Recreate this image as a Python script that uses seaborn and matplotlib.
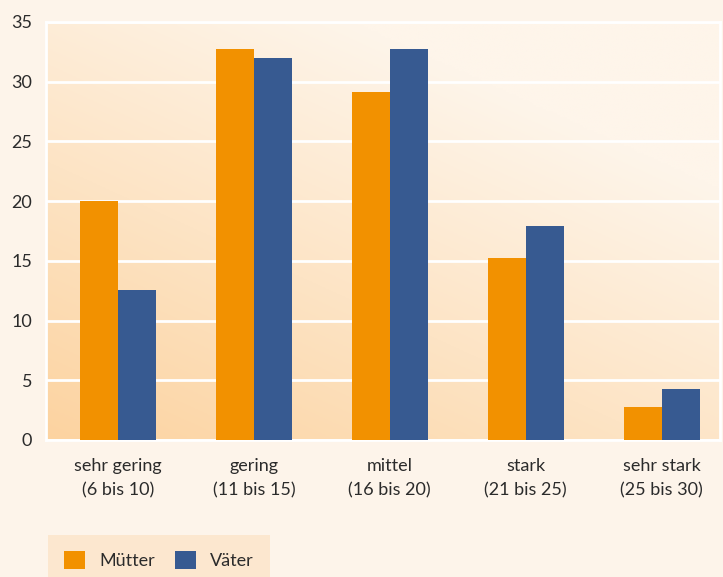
import numpy as np
import pandas as pd
import seaborn as sns
import matplotlib.pyplot as plt
from matplotlib.patches import Patch
from matplotlib.colors import to_rgb

categories = ["sehr gering\n(6 bis 10)", "gering\n(11 bis 15)", "mittel\n(16 bis 20)",
              "stark\n(21 bis 25)", "sehr stark\n(25 bis 30)"]
muetter = [20.0, 32.7, 29.1, 15.2, 2.8]
vaeter = [12.6, 32.0, 32.7, 17.9, 4.3]
series = ["Mütter", "Väter"]
yticks = [0, 5, 10, 15, 20, 25, 30, 35]

ORANGE = "#f29100"
BLUE = "#375a91"
FIG_BG = "#fdf4ea"
TEXT = "#2b2b2b"

sns.set_theme(style="white")
plt.rcParams["font.family"] = ["Lato", "DejaVu Sans"]

df = pd.DataFrame({
    "Kategorie": categories * 2,
    "Anteil": muetter + vaeter,
    "Gruppe": [series[0]] * len(categories) + [series[1]] * len(categories),
})

fig = plt.figure(figsize=(7.23, 5.77), dpi=100, facecolor=FIG_BG)
ax = fig.add_axes([46 / 723, 1 - 440 / 577, (720 - 46) / 723, (440 - 22) / 577])

# gradient background
c0 = np.array(to_rgb("#fcd3a0"))
c1 = np.array(to_rgb("#fef5ea"))
nx, ny = 200, 200
xx, yy = np.meshgrid(np.linspace(0, 1, nx), np.linspace(0, 1, ny))
t = np.clip(0.55 * xx + 0.75 * yy, 0, 1)
t = t / t.max()
img = c0[None, None, :] * (1 - t[..., None]) + c1[None, None, :] * t[..., None]
ax.imshow(img, extent=[-0.53, 4.43, 0, 35], origin="lower", aspect="auto", zorder=0)

sns.barplot(data=df, x="Kategorie", y="Anteil", hue="Gruppe", palette=[ORANGE, BLUE],
            width=0.56, saturation=1, ax=ax, legend=False, zorder=3, linewidth=0)

ax.set_xlim(-0.53, 4.43)
ax.set_ylim(0, 35)
ax.set_yticks(yticks)
ax.set_yticklabels([str(v) for v in yticks])
ax.set_xlabel("")
ax.set_ylabel("")
ax.set_facecolor("none")
ax.yaxis.grid(True, color="white", linewidth=2, zorder=1)
ax.set_axisbelow(True)
for s in ax.spines.values():
    s.set_color("white")
    s.set_linewidth(2)

ax.tick_params(axis="y", length=0, pad=10, labelsize=13, labelcolor=TEXT)
ax.tick_params(axis="x", which="major", length=0, pad=13, labelsize=13, labelcolor=TEXT)
ax.set_xticks([-0.53] + [i + 0.455 for i in range(4)] + [4.43], minor=True)
ax.tick_params(axis="x", which="minor", length=6, width=2, color="white", direction="out")
for lab in ax.get_xticklabels():
    lab.set_linespacing(1.6)

handles = [Patch(facecolor=ORANGE, edgecolor="none", label=series[0]),
           Patch(facecolor=BLUE, edgecolor="none", label=series[1])]
leg = fig.legend(handles=handles, loc="upper left", bbox_to_anchor=(48 / 723, 1 - 535 / 577),
                 ncol=2, frameon=True, facecolor="#fce7cf", edgecolor="none", fancybox=False,
                 borderaxespad=0, borderpad=0.9, handlelength=1.15, handleheight=1.15,
                 handletextpad=0.8, columnspacing=1.1, fontsize=13, labelcolor=TEXT)
leg.get_frame().set_alpha(1)

fig.savefig("out.png", dpi=100, facecolor=FIG_BG)
